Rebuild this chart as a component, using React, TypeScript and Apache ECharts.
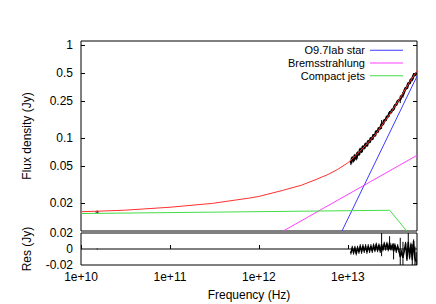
import React, { useEffect, useRef } from "react";
import * as echarts from "echarts";

// ---- axis ranges and ticks ----
const freqRange = [1e10, 6e13];
const fluxRange = [0.01, 1.1];
const resRange = [-0.02, 0.02];
const xTickValues = [1e10, 1e11, 1e12, 1e13];
const xTickLabels = ["1e+10", "1e+11", "1e+12", "1e+13"];
const yTickValues = [1, 0.5, 0.25, 0.1, 0.05, 0.02];
const yTickLabels = ["1", "0.5", "0.25", "0.1", "0.05", "0.02"];
const resTickValues = [0.02, 0, -0.02];
const resTickLabels = ["0.02", "0", "-0.02"];

const legendNames = ["O9.7Iab star", "Bremsstrahlung", "Compact jets"];

// ---- model components ----
const starFreq = [8.6e12, 6e13];
const starFlux = [0.01, 0.46];
const bremsFreq = [1.88e12, 6e13];
const bremsFlux = [0.01, 0.065];
const jetsFreq = [1e10, 2.96e13, 4.59e13];
const jetsFlux = [0.0154, 0.0167, 0.01];
const totalFreq = [
  1e10, 3e10, 1e11, 3e11, 7.85e11, 1e12, 1.85e12, 3e12, 4.38e12, 6e12, 7.67e12,
  1e13, 1.26e13, 1.58e13, 2e13, 2.51e13, 3.16e13, 3.98e13, 5.01e13, 5.89e13, 6e13,
];
const totalFlux = [
  0.0161, 0.0167, 0.018, 0.0198, 0.0226, 0.0235, 0.0273, 0.031, 0.0357, 0.0405, 0.0458,
  0.054, 0.066, 0.083, 0.106, 0.143, 0.197, 0.28, 0.405, 0.512, 0.525,
];

// ---- radio data point ----
const radioFreq = [1.52e10];
const radioFlux = [0.016];
const radioErr = [0.0006];
const radioRes = [0];

// ---- infrared data ----
const irFreq = [
  1.084e13, 1.122e13, 1.161e13, 1.202e13, 1.245e13, 1.288e13, 1.334e13, 1.38e13, 1.429e13, 1.479e13,
  1.531e13, 1.585e13, 1.641e13, 1.698e13, 1.758e13, 1.82e13, 1.884e13, 1.95e13, 2.018e13, 2.089e13,
  2.163e13, 2.239e13, 2.317e13, 2.399e13, 2.483e13, 2.57e13, 2.661e13, 2.754e13, 2.851e13, 2.951e13,
  3.055e13, 3.162e13, 3.273e13, 3.388e13, 3.508e13, 3.631e13, 3.758e13, 3.89e13, 4.027e13, 4.169e13,
  4.315e13, 4.467e13, 4.624e13, 4.786e13, 4.955e13, 5.129e13, 5.309e13, 5.495e13, 5.689e13, 5.888e13,
];
const irFlux = [
  0.053, 0.0617, 0.0565, 0.0654, 0.0594, 0.0696, 0.066, 0.0764, 0.0708, 0.0814,
  0.0772, 0.087, 0.0821, 0.0933, 0.0897, 0.1001, 0.0967, 0.1083, 0.1054, 0.1184,
  0.1155, 0.128, 0.1255, 0.1406, 0.1397, 0.1546, 0.1549, 0.1696, 0.1696, 0.1866,
  0.1875, 0.2018, 0.2045, 0.2238, 0.2277, 0.2472, 0.2544, 0.2604, 0.2821, 0.2903,
  0.3164, 0.3435, 0.3426, 0.3848, 0.3865, 0.4248, 0.4266, 0.4734, 0.4744, 0.496,
];
const irErr = [
  0.002, 0.002, 0.002, 0.002, 0.002, 0.002, 0.002, 0.002, 0.002, 0.002,
  0.002, 0.002, 0.002, 0.002, 0.002, 0.002, 0.002, 0.002, 0.002, 0.002,
  0.002, 0.002, 0.002, 0.015, 0.002, 0.002, 0.002, 0.002, 0.002, 0.008,
  0.002, 0.002, 0.01, 0.002, 0.002, 0.002, 0.002, 0.024, 0.002, 0.02,
  0.002, 0.002, 0.002, 0.012, 0.002, 0.002, 0.02, 0.002, 0.015, 0.012,
];
const irRes = [
  -0.005, 0.002, -0.005, 0.002, -0.006, 0.002, -0.004, 0.004, -0.004, 0.004,
  -0.003, 0.004, -0.004, 0.004, -0.003, 0.004, -0.003, 0.005, -0.002, 0.006,
  -0.002, 0.005, -0.003, 0.006, -0.001, 0.007, 0.0, 0.007, -0.001, 0.008,
  0.0, 0.005, -0.003, 0.005, -0.003, 0.004, -0.002, -0.01, -0.003, -0.011,
  -0.002, 0.007, -0.013, 0.009, -0.011, 0.006, -0.014, 0.01, -0.012, -0.016,
];

const FONT = "Liberation Sans, Arial, sans-serif";
const COLORS = { star: "#3a3aff", brems: "#ff40ff", jets: "#44dd44", total: "#ff3030" };
const lg = (v: number) => Math.log10(v);

function labelFor(values: number[], labels: string[], v: number, useLog: boolean) {
  for (let i = 0; i < values.length; i++) {
    const t = useLog ? lg(values[i]) : values[i];
    if (Math.abs(t - v) < 1e-6) return labels[i];
  }
  return "";
}

function errorRender(params: any, api: any) {
  const x = api.value(0);
  const p1 = api.coord([x, api.value(1)]);
  const p2 = api.coord([x, api.value(2)]);
  return {
    type: "line",
    shape: { x1: p1[0], y1: p1[1], x2: p2[0], y2: p2[1] },
    style: { stroke: "#000", lineWidth: 1 },
  };
}

export default function App() {
  const ref = useRef<HTMLDivElement>(null);
  useEffect(() => {
    if (!ref.current) return;
    const chart = echarts.init(ref.current, undefined, { renderer: "svg" });
    const xMin = lg(freqRange[0]);
    const xMax = lg(freqRange[1]);
    const pairs = (xs: number[], ys: number[]) => xs.map((x, i) => [lg(x), lg(ys[i])]);
    const textStyle = { fontFamily: FONT, fontSize: 12, color: "#000" };

    const option: any = {
      animation: false,
      backgroundColor: "#fff",
      textStyle: { fontFamily: FONT },
      grid: [
        { left: 81, right: 19, top: 41, height: 190, show: true, borderColor: "#000", borderWidth: 1, backgroundColor: "transparent" },
        { left: 81, right: 19, top: 233, height: 32, show: true, borderColor: "#000", borderWidth: 1, backgroundColor: "transparent" },
      ],
      legend: {
        data: legendNames,
        orient: "vertical",
        right: 33,
        top: 44,
        align: "right",
        icon: "rect",
        itemWidth: 33,
        itemHeight: 1,
        itemGap: 0,
        padding: 0,
        selectedMode: false,
        textStyle: { fontFamily: FONT, fontSize: 11, color: "#000", lineHeight: 12.7 },
      },
      xAxis: [
        { type: "value", gridIndex: 0, min: xMin, max: xMax, show: false },
        {
          type: "value",
          gridIndex: 1,
          min: xMin,
          max: xMax,
          name: "Frequency (Hz)",
          nameLocation: "middle",
          nameGap: 24,
          nameTextStyle: textStyle,
          axisLine: { show: false },
          splitLine: { show: false },
          axisTick: { inside: true, length: 4, lineStyle: { color: "#000" }, customValues: xTickValues.map(lg) },
          axisLabel: {
            ...textStyle,
            margin: 6,
            customValues: xTickValues.map(lg),
            formatter: (v: number) => labelFor(xTickValues, xTickLabels, v, true),
          },
        },
      ],
      yAxis: [
        {
          type: "value",
          gridIndex: 0,
          min: lg(fluxRange[0]),
          max: lg(fluxRange[1]),
          name: "Flux density (Jy)",
          nameLocation: "middle",
          nameGap: 48,
          nameTextStyle: textStyle,
          axisLine: { show: false },
          splitLine: { show: false },
          axisTick: { inside: true, length: 4, lineStyle: { color: "#000" }, customValues: yTickValues.map(lg) },
          axisLabel: {
            ...textStyle,
            margin: 8,
            customValues: yTickValues.map(lg),
            formatter: (v: number) => labelFor(yTickValues, yTickLabels, v, true),
          },
        },
        {
          type: "value",
          gridIndex: 1,
          min: resRange[0],
          max: resRange[1],
          name: "Res (Jy)",
          nameLocation: "middle",
          nameGap: 48,
          nameTextStyle: textStyle,
          axisLine: { show: false },
          splitLine: { show: false },
          axisTick: { show: false },
          axisLabel: {
            ...textStyle,
            margin: 8,
            customValues: resTickValues,
            formatter: (v: number) => labelFor(resTickValues, resTickLabels, v, false),
          },
        },
        {
          type: "value",
          gridIndex: 0,
          position: "right",
          min: lg(fluxRange[0]),
          max: lg(fluxRange[1]),
          axisLine: { show: false },
          splitLine: { show: false },
          axisLabel: { show: false },
          axisTick: { inside: true, length: 4, lineStyle: { color: "#000" }, customValues: yTickValues.map(lg) },
        },
      ],
      series: [
        {
          name: "zero",
          type: "line",
          xAxisIndex: 1,
          yAxisIndex: 1,
          symbol: "none",
          data: [[xMin, 0], [xMax, 0]],
          lineStyle: { color: "#000", width: 1 },
          silent: true,
        },
        {
          name: legendNames[0],
          type: "line",
          xAxisIndex: 0,
          yAxisIndex: 0,
          symbol: "none",
          color: COLORS.star,
          data: pairs(starFreq, starFlux),
          lineStyle: { color: COLORS.star, width: 1 },
        },
        {
          name: legendNames[1],
          type: "line",
          xAxisIndex: 0,
          yAxisIndex: 0,
          symbol: "none",
          color: COLORS.brems,
          data: pairs(bremsFreq, bremsFlux),
          lineStyle: { color: COLORS.brems, width: 1 },
        },
        {
          name: legendNames[2],
          type: "line",
          xAxisIndex: 0,
          yAxisIndex: 0,
          symbol: "none",
          color: COLORS.jets,
          data: pairs(jetsFreq, jetsFlux),
          lineStyle: { color: COLORS.jets, width: 1 },
        },
        {
          name: "data",
          type: "line",
          xAxisIndex: 0,
          yAxisIndex: 0,
          symbol: "none",
          data: pairs(irFreq, irFlux),
          lineStyle: { color: "#000", width: 2.5 },
        },
        {
          name: "dataErr",
          type: "custom",
          xAxisIndex: 0,
          yAxisIndex: 0,
          renderItem: errorRender,
          encode: { x: 0, y: [1, 2] },
          data: [
            ...irFreq.map((f, i) => [lg(f), lg(irFlux[i] - irErr[i]), lg(irFlux[i] + irErr[i])]),
            ...radioFreq.map((f, i) => [lg(f), lg(radioFlux[i] - radioErr[i]), lg(radioFlux[i] + radioErr[i])]),
          ],
        },
        {
          name: "radio",
          type: "scatter",
          xAxisIndex: 0,
          yAxisIndex: 0,
          symbol: "rect",
          symbolSize: [4, 1],
          itemStyle: { color: "#000" },
          data: pairs(radioFreq, radioFlux),
        },
        {
          name: "total",
          type: "line",
          xAxisIndex: 0,
          yAxisIndex: 0,
          symbol: "none",
          data: pairs(totalFreq, totalFlux),
          lineStyle: { color: COLORS.total, width: 1 },
        },
        {
          name: "residuals",
          type: "line",
          xAxisIndex: 1,
          yAxisIndex: 1,
          symbol: "none",
          data: irFreq.map((f, i) => [lg(f), irRes[i]]),
          lineStyle: { color: "#000", width: 1.5 },
        },
        {
          name: "resErr",
          type: "custom",
          xAxisIndex: 1,
          yAxisIndex: 1,
          clip: true,
          renderItem: errorRender,
          encode: { x: 0, y: [1, 2] },
          data: [
            ...irFreq.map((f, i) => [lg(f), irRes[i] - irErr[i], irRes[i] + irErr[i]]),
            ...radioFreq.map((f, i) => [lg(f), radioRes[i] - radioErr[i], radioRes[i] + radioErr[i]]),
          ],
        },
      ],
    };
    chart.setOption(option);
    return () => chart.dispose();
  }, []);
  return (
    <div
      ref={ref}
      style={{ position: "fixed", left: 0, top: 0, width: 436, height: 304, background: "#fff" }}
    />
  );
}
